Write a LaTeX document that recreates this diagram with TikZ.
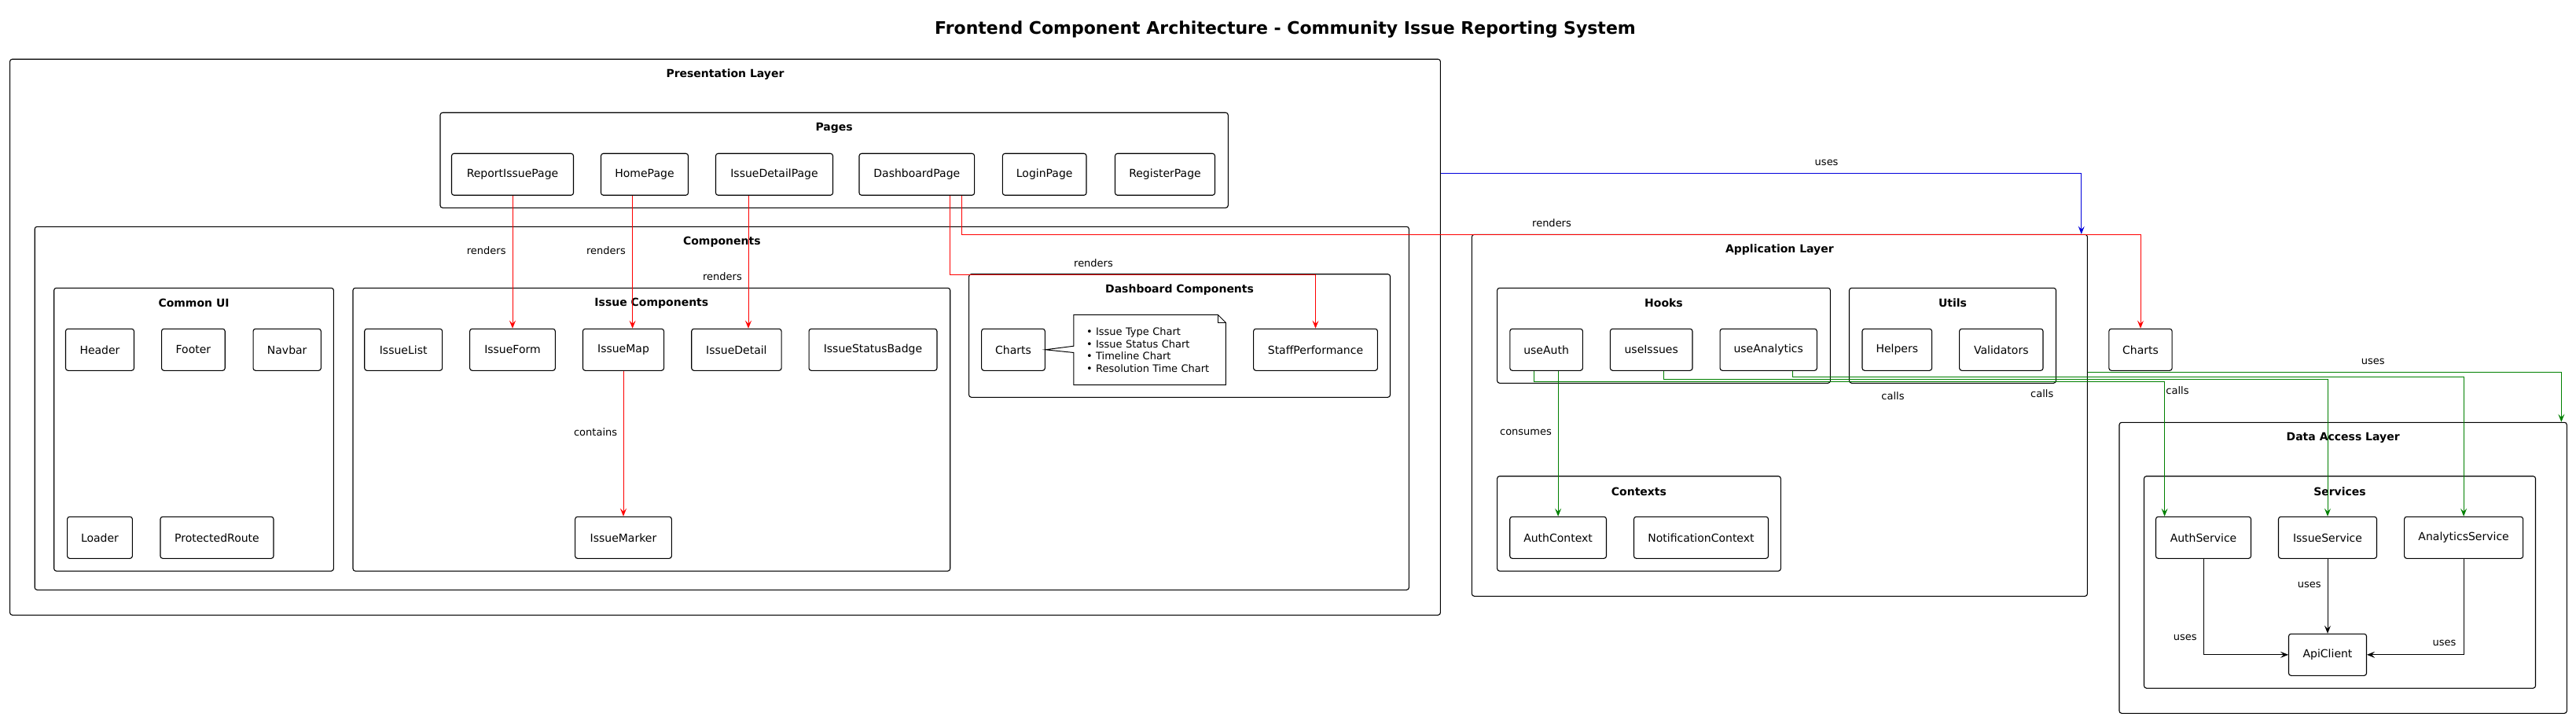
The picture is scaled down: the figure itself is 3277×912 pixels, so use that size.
\documentclass[tikz,border=0pt]{standalone}
\usepackage{fontspec}
\setmainfont{DejaVu Sans}
\usetikzlibrary{arrows.meta,fit,calc}
\definecolor{arrred}{RGB}{255,0,0}
\definecolor{arrblue}{RGB}{0,0,220}
\definecolor{arrgreen}{RGB}{0,128,0}
\tikzset{
  frame/.style={draw=black, line width=1.1pt, rounded corners=3pt, inner sep=0pt},
  ftitle/.style={font=\fontsize{14}{16}\selectfont\bfseries, inner sep=0pt},
  box/.style={draw=black, line width=1.1pt, rounded corners=3pt, minimum height=53pt, inner sep=0pt, font=\fontsize{14}{16}\selectfont, fill=white},
  lbl/.style={font=\fontsize{13}{15}\selectfont, inner sep=0pt},
  conn/.style={line width=0.9pt, -{Stealth[length=10pt,width=8pt,inset=4pt]}},
  rd/.style={conn, draw=arrred},
  bl/.style={conn, draw=arrblue},
  gr/.style={conn, draw=arrgreen},
  bk/.style={conn, draw=black},
}
\begin{document}
\begin{tikzpicture}[x=1pt,y=-1pt]
\useasboundingbox (0,0) rectangle (3277,912);
\fill[white] (0,0) rectangle (3277,912);

\node[font=\fontsize{22}{26}\selectfont\bfseries, inner sep=0pt] (title) at (1635,37.3) {Frontend Component Architecture - Community Issue Reporting System};

% frames
\node[frame, fit={(12.6,75.3) (1832.4,782.3)}] (pres) {};
\node[frame, fit={(560,143.3) (1562.3,264.3)}] (pages) {};
\node[frame, fit={(44.2,288.3) (1792.4,750.3)}] (comps) {};
\node[frame, fit={(68.7,366.3) (424.4,726.3)}] (common) {};
\node[frame, fit={(449,366.3) (1208.7,726.3)}] (issuec) {};
\node[frame, fit={(1232.6,348.7) (1768.5,505.3)}] (dashc) {};
\node[frame, fit={(1872.4,298.3) (2655.4,758.3)}] (app) {};
\node[frame, fit={(1904.6,366.3) (2328.4,487.3)}] (hooks) {};
\node[frame, fit={(2352.5,366.3) (2615.5,487.3)}] (utils) {};
\node[frame, fit={(1904.6,605.7) (2265.3,726.3)}] (ctx) {};
\node[frame, fit={(2696,537.3) (3265.3,907.3)}] (dal) {};
\node[frame, fit={(2727.5,605.7) (3225.5,875.3)}] (svc) {};

\node[ftitle] (presT) at ([yshift=-20pt]pres.north) {Presentation Layer};
\node[ftitle] (pagesT) at ([yshift=-20pt]pages.north) {Pages};
\node[ftitle] (compsT) at ([yshift=-20pt]comps.north) {Components};
\node[ftitle] (commonT) at ([yshift=-20pt]common.north) {Common UI};
\node[ftitle] (issuecT) at ([yshift=-20pt]issuec.north) {Issue Components};
\node[ftitle] (dashcT) at ([yshift=-20pt]dashc.north) {Dashboard Components};
\node[ftitle] (appT) at ([yshift=-20pt]app.north) {Application Layer};
\node[ftitle] (hooksT) at ([yshift=-20pt]hooks.north) {Hooks};
\node[ftitle] (utilsT) at ([yshift=-20pt]utils.north) {Utils};
\node[ftitle] (ctxT) at ([yshift=-20pt]ctx.north) {Contexts};
\node[ftitle] (dalT) at ([yshift=-20pt]dal.north) {Data Access Layer};
\node[ftitle] (svcT) at ([yshift=-20pt]svc.north) {Services};

% pages
\node[box, minimum width=155pt] (ReportIssuePage) at (652,221.8) {ReportIssuePage};
\node[box, minimum width=111pt] (HomePage) at (820,221.8) {HomePage};
\node[box, minimum width=149pt] (IssueDetailPage) at (985,221.8) {IssueDetailPage};
\node[box, minimum width=146.6pt] (DashboardPage) at (1166.3,221.8) {DashboardPage};
\node[box, minimum width=106.6pt] (LoginPage) at (1328.7,221.8) {LoginPage};
\node[box, minimum width=127pt] (RegisterPage) at (1482,221.8) {RegisterPage};

% row 1
\node[box, minimum width=87pt] (Header) at (127,444.8) {Header};
\node[box, minimum width=80.7pt] (Footer) at (245.9,444.8) {Footer};
\node[box, minimum width=86.3pt] (Navbar) at (365.2,444.8) {Navbar};
\node[box, minimum width=98.9pt] (IssueList) at (513.2,444.8) {IssueList};
\node[box, minimum width=108.7pt] (IssueForm) at (652,444.8) {IssueForm};
\node[box, minimum width=103.1pt] (IssueMap) at (793,444.8) {IssueMap};
\node[box, minimum width=114.3pt] (IssueDetail) at (936.9,444.8) {IssueDetail};
\node[box, minimum width=162.9pt] (IssueStatusBadge) at (1110.5,444.8) {IssueStatusBadge};
\node[box, minimum width=80.7pt] (ChartsD) at (1289,444.8) {Charts};
\node[box, minimum width=157.8pt] (StaffPerformance) at (1673.5,444.8) {StaffPerformance};
\node[box, minimum width=92.6pt] (useAuth) at (1967.1,444.8) {useAuth};
\node[box, minimum width=104.6pt] (useIssues) at (2100.7,444.8) {useIssues};
\node[box, minimum width=123.3pt] (useAnalytics) at (2249.7,444.8) {useAnalytics};
\node[box, minimum width=88.6pt] (Helpers) at (2413.3,444.8) {Helpers};
\node[box, minimum width=106.4pt] (Validators) at (2545.8,444.8) {Validators};
\node[box, minimum width=80.3pt] (ChartsR) at (2723,444.8) {Charts};

% row 2
\node[box, minimum width=82.8pt] (Loader) at (127,683.8) {Loader};
\node[box, minimum width=144pt] (ProtectedRoute) at (276,683.8) {ProtectedRoute};
\node[box, minimum width=122.7pt] (IssueMarker) at (793,683.8) {IssueMarker};
\node[box, minimum width=122.7pt] (AuthContext) at (1982.1,683.8) {AuthContext};
\node[box, minimum width=171pt] (NotificationContext) at (2164,683.8) {NotificationContext};
\node[box, minimum width=121pt] (AuthService) at (2803,683.8) {AuthService};
\node[box, minimum width=125pt] (IssueService) at (2961,683.8) {IssueService};
\node[box, minimum width=151pt] (AnalyticsService) at (3134.1,683.8) {AnalyticsService};
\node[box, minimum width=99pt] (ApiClient) at (2961,832.8) {ApiClient};

% note
\node[anchor=north west, minimum height=89pt, text width=161pt, inner xsep=16pt, inner ysep=0pt, align=left,
      font=\fontsize{13}{15.5}\selectfont] (note) at (1365.9,400.3)
      {• Issue Type Chart\\• Issue Status Chart\\• Timeline Chart\\• Resolution Time Chart};
\draw[line width=1pt, line join=miter] (note.north west) -- ([xshift=-10pt]note.north east) -- ([yshift=-10pt]note.north east)
  -- (note.south east) -- (note.south west) -- ([yshift=-3.5pt]note.west) -- (ChartsD.east) -- ([yshift=4.8pt]note.west) -- cycle;
\draw[line width=1pt] ([xshift=-10pt]note.north east) |- ([yshift=-10pt]note.north east);

% connectors
\draw[rd] (ReportIssuePage.south) -- (IssueForm.north);
\draw[rd] ([xshift=-15.4pt]HomePage.south) -- ([xshift=-15.4pt]HomePage.south |- IssueMap.north);
\draw[rd] ([xshift=-33pt]IssueDetailPage.south) -- ([xshift=-33pt]IssueDetailPage.south |- IssueDetail.north);
\draw[rd] ([xshift=42.4pt]DashboardPage.south) -- ++(0,101) -| (StaffPerformance.north);
\draw[rd] ([xshift=57.2pt]DashboardPage.south) -- ++(0,50) -| (ChartsR.north);
\draw[rd] (IssueMap.south) -- (IssueMarker.north);
\draw[bl] ([yshift=-146pt]pres.north east) -| ([xshift=-8.2pt]app.north east);
\draw[gr] (AuthContext.north |- useAuth.south) -- (AuthContext.north);
\draw[gr] ([xshift=-15.5pt]useAuth.south) -- ++(0,14) -| ([xshift=-49.4pt]AuthService.north);
\draw[gr] ([xshift=15.8pt]useIssues.south) -- ++(0,10.7) -| (IssueService.north);
\draw[gr] ([xshift=30.7pt]useAnalytics.south) -- ++(0,7.2) -| (AnalyticsService.north);
\draw[gr] ([yshift=-176pt]app.north east) -| ([xshift=-7.5pt]dal.north east);
\draw[bk] (AuthService.south) |- (ApiClient.west);
\draw[bk] (IssueService.south) -- (ApiClient.north);
\draw[bk] (AnalyticsService.south) |- (ApiClient.east);

% connector labels
\node[lbl] (l1) at (618.7,319) {renders};
\node[lbl] (l2) at (771,319) {renders};
\node[lbl] (l3) at (919,351.7) {renders};
\node[lbl] (l4) at (1391,335) {renders};
\node[lbl] (l5) at (1974,284) {renders};
\node[lbl] (l6) at (757.6,550) {contains};
\node[lbl] (l7) at (2323.6,206.7) {uses};
\node[lbl] (l8) at (1941,550) {consumes};
\node[lbl] (l9) at (2408,503.7) {calls};
\node[lbl] (l10) at (2597.7,500.7) {calls};
\node[lbl] (l11) at (2770,497) {calls};
\node[lbl] (l12) at (3018.7,460) {uses};
\node[lbl] (l13) at (2779.7,811) {uses};
\node[lbl] (l14) at (2937.7,744) {uses};
\node[lbl] (l15) at (3109.4,818) {uses};
\end{tikzpicture}
\end{document}
